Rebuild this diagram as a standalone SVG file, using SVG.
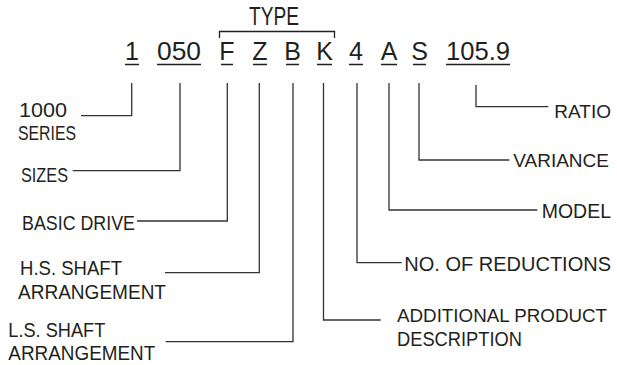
<svg xmlns="http://www.w3.org/2000/svg" width="617" height="365" viewBox="0 0 617 365">
  <style>
    .code { font-family: "Liberation Sans", Arial, sans-serif; font-size: 25px; fill: #231f20; text-anchor: middle; }
    .label { font-family: "Liberation Sans", Arial, sans-serif; font-size: 21px; fill: #231f20; }
    .rlabel { font-family: "Liberation Sans", Arial, sans-serif; font-size: 19.5px; fill: #231f20; text-anchor: end; }
    .ul { stroke: #231f20; stroke-width: 1.3; fill: none; }
    .lead { stroke: #333333; stroke-width: 1.3; fill: none; }
  </style>
  <rect width="617" height="365" fill="#ffffff"/>

  <!-- model code heading -->
  <g id="code">
    <text class="code" x="274" y="25" font-size="23" textLength="50" lengthAdjust="spacingAndGlyphs">TYPE</text>
    <path class="ul" d="M219.5 38 V31.5 H334.5 V38"/>
    <text class="code" x="132" y="60">1</text>
    <text class="code" x="179" y="60" textLength="44" lengthAdjust="spacingAndGlyphs">050</text>
    <text class="code" x="227" y="60">F</text>
    <text class="code" x="260" y="60">Z</text>
    <text class="code" x="292.5" y="60">B</text>
    <text class="code" x="324.5" y="60">K</text>
    <text class="code" x="356" y="60">4</text>
    <text class="code" x="389" y="60">A</text>
    <text class="code" x="419.5" y="60">S</text>
    <text class="code" x="478" y="60" textLength="64" lengthAdjust="spacingAndGlyphs">105.9</text>
    <path class="ul" d="M125 64.5 H139 M157 64.5 H201 M221 64.5 H233 M253 64.5 H267 M286 64.5 H299 M317 64.5 H332 M349 64.5 H363 M381 64.5 H397 M413 64.5 H426 M446 64.5 H510"/>
  </g>

  <!-- leader lines -->
  <g id="connectors">
    <path class="lead" d="M131.7 83 V115.7 H81"/>
    <path class="lead" d="M180 83 V170.7 H72.7"/>
    <path class="lead" d="M227.3 83 V221 H137"/>
    <path class="lead" d="M259.3 83 V272.7 H165"/>
    <path class="lead" d="M293 83 V341.7 H165.7"/>
    <path class="lead" d="M323.5 83 V320 H380.7"/>
    <path class="lead" d="M357 83 V262.7 H401.7"/>
    <path class="lead" d="M389 83 V210 H537.3"/>
    <path class="lead" d="M419 83 V160 H509.3"/>
    <path class="lead" d="M476 85 V106.7 H548.3"/>
  </g>

  <g id="series">
    <text class="label" x="19" y="117" textLength="48" lengthAdjust="spacingAndGlyphs">1000</text>
    <text class="label" x="18" y="140" textLength="58" lengthAdjust="spacingAndGlyphs">SERIES</text>
  </g>
  <g id="sizes">
    <text class="label" x="21" y="181.7" textLength="47" lengthAdjust="spacingAndGlyphs">SIZES</text>
  </g>
  <g id="basic-drive">
    <text class="label" x="22" y="230" textLength="113" lengthAdjust="spacingAndGlyphs">BASIC DRIVE</text>
  </g>
  <g id="hs-shaft">
    <text class="label" x="20" y="275" textLength="102" lengthAdjust="spacingAndGlyphs">H.S. SHAFT</text>
    <text class="label" x="18" y="299" textLength="148" lengthAdjust="spacingAndGlyphs">ARRANGEMENT</text>
  </g>
  <g id="ls-shaft">
    <text class="label" x="8.3" y="336.7" textLength="97" lengthAdjust="spacingAndGlyphs">L.S. SHAFT</text>
    <text class="label" x="8.3" y="360" textLength="147" lengthAdjust="spacingAndGlyphs">ARRANGEMENT</text>
  </g>
  <g id="additional">
    <text class="label" x="397" y="322" style="font-size:18.8px">ADDITIONAL PRODUCT</text>
    <text class="label" x="397" y="346" style="font-size:19.5px" textLength="125" lengthAdjust="spacingAndGlyphs">DESCRIPTION</text>
  </g>
  <g id="reductions">
    <text class="rlabel" x="611" y="271" style="font-size:20px">NO. OF REDUCTIONS</text>
  </g>
  <g id="model">
    <text class="rlabel" x="611" y="218">MODEL</text>
  </g>
  <g id="variance">
    <text class="rlabel" x="609" y="167" style="font-size:19px">VARIANCE</text>
  </g>
  <g id="ratio">
    <text class="rlabel" x="611" y="118" style="font-size:19px">RATIO</text>
  </g>
</svg>
